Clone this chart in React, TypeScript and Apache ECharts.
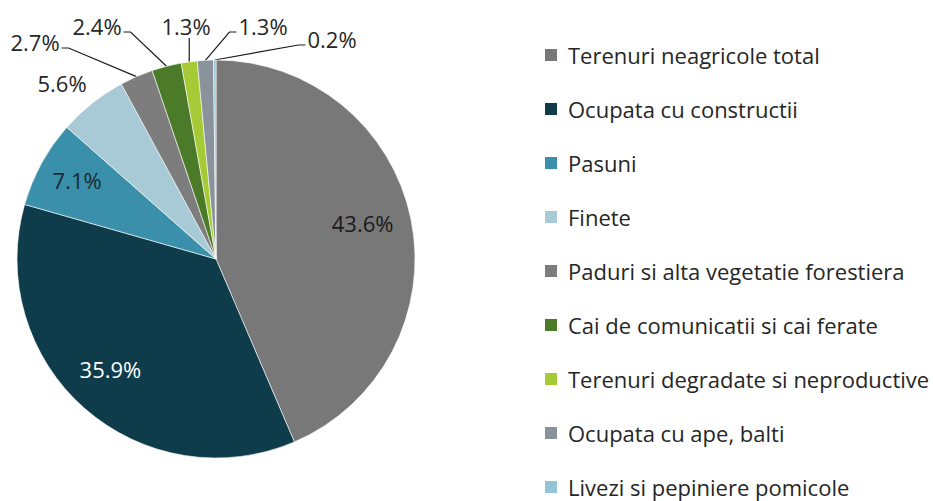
import React, { useEffect, useRef } from "react";
import * as echarts from "echarts";

const categories = [
  "Terenuri neagricole total",
  "Ocupata cu constructii",
  "Pasuni",
  "Finete",
  "Paduri si alta vegetatie forestiera",
  "Cai de comunicatii si cai ferate",
  "Terenuri degradate si neproductive",
  "Ocupata cu ape, balti",
  "Livezi si pepiniere pomicole",
];
const values = [43.6, 35.9, 7.1, 5.6, 2.7, 2.4, 1.3, 1.3, 0.2];
const colors = [
  "#787878",
  "#0f3c4b",
  "#3a90aa",
  "#a8cad6",
  "#7d7d7d",
  "#4b7b28",
  "#a6ca35",
  "#8a939b",
  "#94c5d6",
];

// layout-only: pie geometry and outside label placement
const CX = 216;
const CY = 259;
const R = 199;
type Side = "none" | "left" | "right" | "bottom";
const outsideLabels: (null | [number, number, Side])[] = [
  null,
  null,
  null,
  [62, 83, "none"],
  [35, 42, "right"],
  [97, 26, "right"],
  [186, 26, "bottom"],
  [263, 26, "left"],
  [332, 39, "left"],
];
const insideLabelColors = ["#1a1a1a", "#ffffff", "#1a2a33"];

const FONT = "'Open Sans', sans-serif";

export default function App() {
  const ref = useRef<HTMLDivElement>(null);
  useEffect(() => {
    if (!ref.current) return;
    const chart = echarts.init(ref.current, null, { renderer: "svg" });
    const data = categories.map((name, i) => {
      const out = outsideLabels[i];
      return {
        name,
        value: values[i],
        itemStyle: { color: colors[i] },
        label: out
          ? { position: "outside", color: "#262626" }
          : { position: "inside", color: insideLabelColors[i] },
        labelLine: { show: !!out && out[2] !== "none" },
      };
    });
    chart.setOption({
      animation: false,
      backgroundColor: "#ffffff",
      textStyle: { fontFamily: FONT },
      legend: {
        orient: "vertical",
        left: 543,
        top: 44,
        width: 390,
        height: 520,
        padding: 0,
        itemWidth: 14,
        itemHeight: 14,
        itemGap: 32,
        icon: "rect",
        data: categories,
        textStyle: {
          fontFamily: FONT,
          fontSize: 22,
          color: "#262626",
          padding: [0, 0, 0, 5],
        },
      },
      series: [
        {
          type: "pie",
          center: [CX, CY],
          radius: R,
          startAngle: 90,
          clockwise: true,
          avoidLabelOverlap: false,
          itemStyle: { borderColor: "#ffffff", borderWidth: 0.6 },
          label: {
            show: true,
            fontFamily: FONT,
            fontSize: 22,
            formatter: (p: any) => p.value.toFixed(1) + "%",
          },
          labelLine: {
            show: true,
            lineStyle: { color: "#1a1a1a", width: 1.2 },
            length: 10,
            length2: 10,
          },
          labelLayout: (p: any) => {
            const i = p.dataIndex;
            const out = outsideLabels[i];
            const lr = p.labelRect;
            if (!out) {
              const cx = lr.x + lr.width / 2;
              const cy = lr.y + lr.height / 2;
              return {
                x: CX + (cx - CX) * 1.5 - 4,
                y: CY + (cy - CY) * 1.5 - 5,
                align: "center",
                verticalAlign: "middle",
              };
            }
            const [x, y, side] = out;
            const w = lr.width;
            const h = lr.height;
            const res: any = { x, y, align: "center", verticalAlign: "middle" };
            const start =
              p.labelLinePoints && p.labelLinePoints[0]
                ? p.labelLinePoints[0]
                : [CX, CY - R];
            if (side === "right") {
              const end = [x + w / 2 + 2, y + 6];
              res.labelLinePoints = [start, [end[0] + 7, end[1]], end];
            } else if (side === "left") {
              const end = [x - w / 2 - 2, y + 6];
              res.labelLinePoints = [start, [end[0] - 7, end[1]], end];
            } else if (side === "bottom") {
              const end = [start[0], y + h / 2 + 1];
              res.labelLinePoints = [start, [start[0], end[1] + 4], end];
            }
            return res;
          },
          data,
        },
      ],
    });
    return () => chart.dispose();
  }, []);
  return (
    <div
      ref={ref}
      style={{ position: "fixed", left: 0, top: 0, width: 933, height: 501 }}
    />
  );
}
